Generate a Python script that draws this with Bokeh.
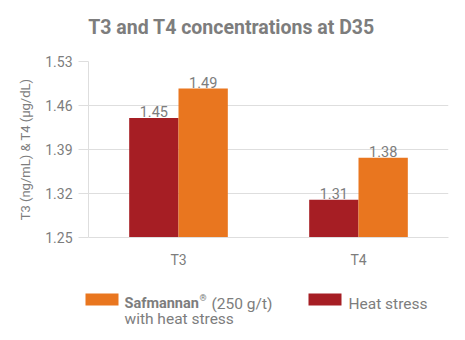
from bokeh.plotting import figure
from bokeh.layouts import column
from bokeh.models import (FactorRange, Range1d, FixedTicker, NumeralTickFormatter,
                          ColumnDataSource)
from bokeh.transform import dodge
from bokeh.core.properties import value
from bokeh.embed import file_html
from bokeh.resources import INLINE

categories = ["T3", "T4"]
heat_stress = [1.44, 1.31]
heat_stress_labels = ["1.45", "1.31"]
safmannan = [1.487, 1.377]
safmannan_labels = ["1.49", "1.38"]
y_ticks = [1.25, 1.32, 1.39, 1.46, 1.53]
title_text = "T3 and T4 concentrations at D35"
y_label = "T3 (ng/mL) & T4 (µg/dL)"
legend_safmannan = ["Safmannan", "®", "(250 g/t)", "with heat stress"]
legend_heat = "Heat stress"

RED = "#a61e24"
ORANGE = "#e9761f"
GRAY = "#7d7d7d"
LIGHT = "#dedede"
FONT = "Roboto"
W = 465


def blank(height):
    f = figure(width=W, height=height, output_backend="svg", toolbar_location=None,
               x_range=Range1d(0, W), y_range=Range1d(height, 0),
               x_axis_type=None, y_axis_type=None, min_border=0, frame_align=False)
    f.outline_line_color = None
    f.grid.visible = False
    f.background_fill_color = "white"
    f.border_fill_color = "white"
    return f


# ---- title strip (canvas y 0..45)
t = blank(45)
t.text(x=[231], y=[27], text=[title_text], text_align="center", text_baseline="alphabetic",
       text_font=value(FONT), text_font_style="bold", text_font_size="19.5px", text_color=GRAY)

# ---- main chart (canvas y 45..275, frame 61..237)
Y0, Y1 = 1.25, 1.53
src = ColumnDataSource(dict(cat=categories, heat=heat_stress, heat_lab=heat_stress_labels,
                            saf=safmannan, saf_lab=safmannan_labels))
p = figure(width=W, height=230, output_backend="svg", toolbar_location=None,
           x_range=FactorRange(*categories, range_padding=0),
           y_range=Range1d(Y0, Y1), frame_align=False,
           min_border_left=88, min_border_right=17, min_border_top=16, min_border_bottom=38)
p.outline_line_color = None
p.background_fill_color = "white"
p.border_fill_color = "white"

off = 0.137
w = 0.274
p.vbar(x=dodge("cat", -off, range=p.x_range), top="heat", bottom=Y0, width=w,
       color=RED, line_color=None, source=src)
p.vbar(x=dodge("cat", off, range=p.x_range), top="saf", bottom=Y0, width=w,
       color=ORANGE, line_color=None, source=src)
p.text(x=dodge("cat", -off, range=p.x_range), y="heat", text="heat_lab", source=src,
       text_align="center", text_baseline="bottom", text_color=GRAY,
       text_font=value(FONT), text_font_size="14.5px", y_offset=-1)
p.text(x=dodge("cat", off, range=p.x_range), y="saf", text="saf_lab", source=src,
       text_align="center", text_baseline="bottom", text_color=GRAY,
       text_font=value(FONT), text_font_size="14.5px", y_offset=-1)

p.yaxis.ticker = FixedTicker(ticks=y_ticks)
p.yaxis.formatter = NumeralTickFormatter(format="0.00")
p.yaxis.axis_label = y_label
p.yaxis.axis_label_text_font = FONT
p.yaxis.axis_label_text_font_style = "normal"
p.yaxis.axis_label_text_font_size = "13px"
p.yaxis.axis_label_text_color = GRAY
p.yaxis.axis_label_standoff = 9
p.yaxis.major_label_text_font = FONT
p.yaxis.major_label_text_font_size = "14px"
p.yaxis.major_label_text_color = GRAY
p.yaxis.major_label_standoff = 6
p.yaxis.major_tick_out = 10
p.yaxis.major_tick_in = 0
p.yaxis.major_tick_line_color = LIGHT
p.yaxis.minor_tick_line_color = None
p.yaxis.axis_line_color = LIGHT

p.xaxis.major_label_text_font = FONT
p.xaxis.major_label_text_font_size = "14px"
p.xaxis.major_label_text_color = GRAY
p.xaxis.major_label_standoff = 8
p.xaxis.major_tick_line_color = None
p.xaxis.axis_line_color = LIGHT

p.xgrid.grid_line_color = None
p.ygrid.grid_line_color = LIGHT

# ---- legend strip (canvas y 275..340)
L0 = 275
lg = blank(65)
lg.quad(left=[85, 308], right=[118, 341], top=[293 - L0, 293 - L0], bottom=[305 - L0, 305 - L0],
        color=[ORANGE, RED], line_color=None)
lkw = dict(text_align="left", text_baseline="alphabetic", text_font=value(FONT),
           text_color=GRAY)
lg.text(x=[124], y=[303 - L0], text=[legend_safmannan[0]], text_font_style="bold",
        text_font_size="14.5px", **lkw)
lg.text(x=[199], y=[297 - L0], text=[legend_safmannan[1]], text_font_style="bold",
        text_font_size="9px", **lkw)
lg.text(x=[211], y=[303 - L0], text=[legend_safmannan[2]], text_font_size="15.5px", **lkw)
lg.text(x=[124, 348], y=[318 - L0, 303 - L0], text=[legend_safmannan[3], legend_heat],
        text_font_size="15.5px", **lkw)

layout = column(t, p, lg, spacing=0)
open("out.html", "w").write(file_html(layout, INLINE))
